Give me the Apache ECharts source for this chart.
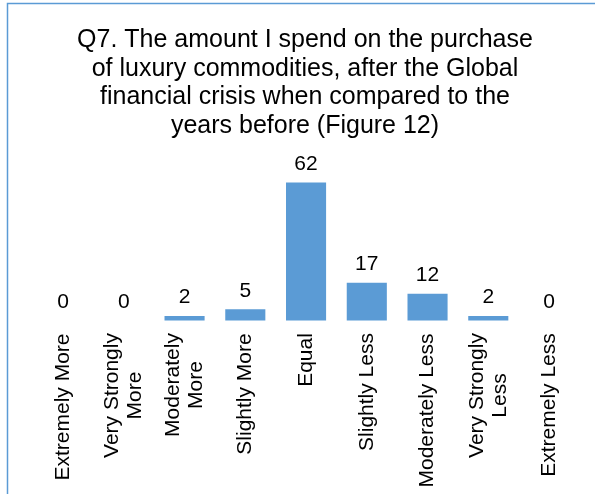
<!DOCTYPE html>
<html>
<head>
<meta charset="utf-8">
<script src="https://cdn.jsdelivr.net/npm/echarts@6/dist/echarts.min.js"></script>
<style>
  html, body { margin: 0; padding: 0; background: #fff; }
  #chart { width: 595px; height: 494px; }
</style>
</head>
<body>
<div id="chart"></div>
<script>
// Survey answers (count of respondents per option)
const titleLines = [
  'Q7. The amount I spend on the purchase',
  'of luxury commodities, after the Global',
  'financial crisis when compared to the',
  'years before (Figure 12)'
];
const categories = [
  'Extremely More',
  'Very Strongly\nMore',
  'Moderately\nMore',
  'Slightly More',
  'Equal',
  'Slightly Less',
  'Moderately Less',
  'Very Strongly\nLess',
  'Extremely Less'
];
const responses = [0, 0, 2, 5, 62, 17, 12, 2, 0];

const FONT = '"Liberation Sans", Arial, sans-serif';
const LABEL_SIZE = 21;
const BAR_BLUE = '#5B9BD5';

// Each wrapped tick label gets a box as wide as its longest line so the
// shorter line is centred beneath it.
const ctx = document.createElement('canvas').getContext('2d');
ctx.font = LABEL_SIZE + 'px ' + FONT;
const rich = {};
categories.forEach((name, i) => {
  const w = Math.max(...name.split('\n').map(s => ctx.measureText(s).width));
  rich['c' + i] = {
    width: Math.ceil(w) + 1,
    align: 'center',
    fontSize: LABEL_SIZE,
    lineHeight: 23,
    fontFamily: FONT,
    color: '#000'
  };
});

const chart = echarts.init(document.getElementById('chart'), null, { renderer: 'canvas' });
chart.setOption({
  animation: false,
  backgroundColor: '#fff',
  title: {
    text: titleLines.join('\n'),
    left: 300,
    top: 21,
    textAlign: 'center',
    textStyle: {
      fontFamily: FONT,
      fontSize: 25,
      fontWeight: 'normal',
      lineHeight: 28.6,
      color: '#000'
    }
  },
  grid: { left: 32.7, right: 15.6, top: 164.7, bottom: 173.5 },
  xAxis: {
    type: 'category',
    data: categories,
    axisLine: { show: false },
    axisTick: { show: false },
    axisLabel: {
      rotate: 90,
      margin: 12,
      interval: 0,
      formatter: (value, index) =>
        value.split('\n').map(s => '{c' + index + '|' + s + '}').join('\n'),
      rich: rich
    }
  },
  yAxis: {
    type: 'value',
    min: 0,
    max: 70,
    show: false,
    splitLine: { show: false }
  },
  series: [{
    type: 'bar',
    data: responses,
    barCategoryGap: '34%',
    itemStyle: { color: BAR_BLUE },
    label: {
      show: true,
      position: 'top',
      distance: 8,
      fontFamily: FONT,
      fontSize: LABEL_SIZE,
      color: '#000'
    }
  }],
  graphic: [{
    type: 'polyline',
    silent: true,
    shape: { points: [[7.5, 494], [7.5, 3.5], [595, 3.5]] },
    style: { stroke: BAR_BLUE, lineWidth: 1.5, fill: null }
  }]
});
</script>
</body>
</html>
